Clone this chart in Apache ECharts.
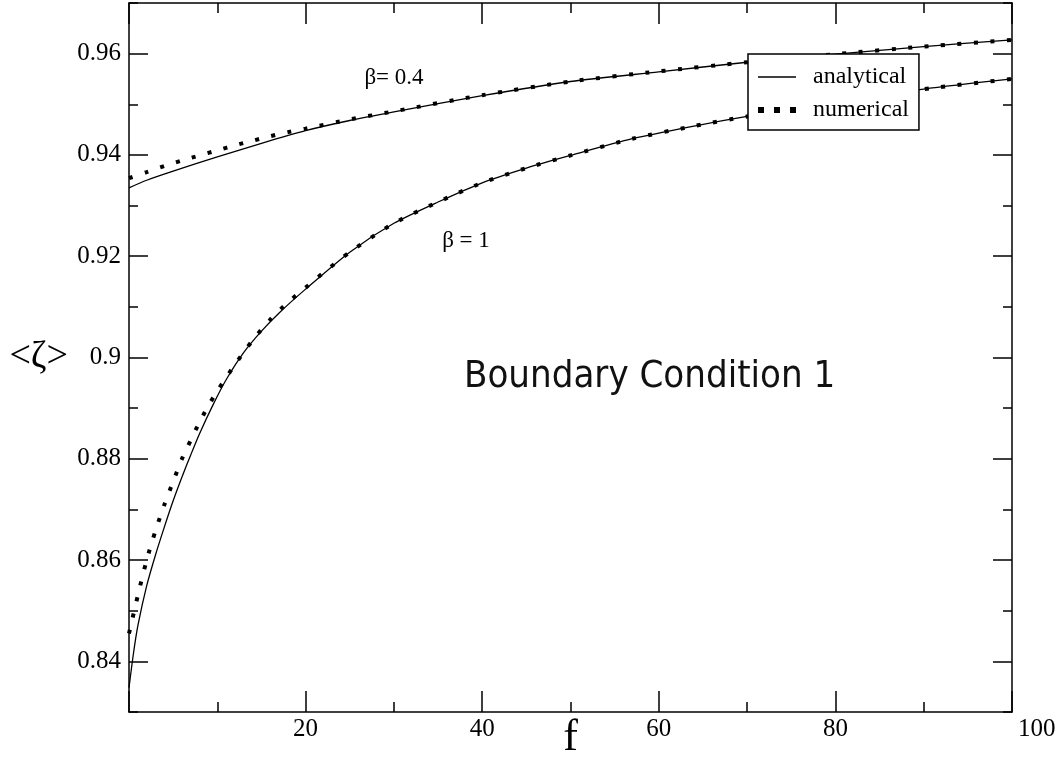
<!DOCTYPE html>
<html>
<head>
<meta charset="utf-8">
<script src="https://cdn.jsdelivr.net/npm/echarts@6/dist/echarts.min.js"></script>
<style>
  html, body { margin: 0; padding: 0; background: #fff; }
  #chart { width: 1060px; height: 758px; }
</style>
</head>
<body>
<div id="chart"></div>
<script>
// beta = 0.4
const fUp = [0, 2, 5, 10, 15, 20, 25, 30, 40, 50, 60, 70, 80, 90, 100];
const analyticUp = [0.9335, 0.9350, 0.9368, 0.9396, 0.9423, 0.9448, 0.9468, 0.9485, 0.9517, 0.9545, 0.9564, 0.9583, 0.9599, 0.9614, 0.9627];
const fUpNum = [0, 2, 4, 6, 8, 10, 12, 14, 16, 18, 20, 25, 30, 40, 50, 60, 70, 80, 90, 100];
const numericUp = [0.9354, 0.9366, 0.9378, 0.9389, 0.9399, 0.9409, 0.9419, 0.9428, 0.9437, 0.9445, 0.9452, 0.9470, 0.9486, 0.9518, 0.9545, 0.9565, 0.9583, 0.9599, 0.9614, 0.9627];

// beta = 1
const fLow = [0, 0.5, 1, 2, 3, 4, 5, 6, 7, 8, 9.5, 11, 13, 15, 17, 20, 25, 30, 35, 40, 45, 50, 57, 64, 70, 80, 90, 100];
const analyticLow = [0.8348, 0.8415, 0.8470, 0.8549, 0.8610, 0.8665, 0.8717, 0.8764, 0.8808, 0.8850, 0.8906, 0.8956, 0.9010, 0.9052, 0.9088, 0.9135, 0.9208, 0.9265, 0.9307, 0.9345, 0.9374, 0.9399, 0.9432, 0.9457, 0.9476, 0.9504, 0.9530, 0.9550];
const fLowNum = [0, 1, 2, 3, 4, 5, 6, 7, 8, 9, 10, 12, 14, 16, 18, 20, 22, 25, 30, 35, 40, 45, 50, 57, 64, 70, 80, 90, 100];
const numericLow = [0.8455, 0.8530, 0.8600, 0.8658, 0.8709, 0.8755, 0.8800, 0.8837, 0.8873, 0.8905, 0.8934, 0.8986, 0.9034, 0.9075, 0.9109, 0.9138, 0.9167, 0.9208, 0.9265, 0.9307, 0.9345, 0.9374, 0.9399, 0.9432, 0.9457, 0.9476, 0.9504, 0.9530, 0.9550];

const yMajor = [0.84, 0.86, 0.88, 0.9, 0.92, 0.94, 0.96];

const serif = '"Liberation Serif", "DejaVu Serif", serif';
const black = '#000';
const axisLine = { show: true, lineStyle: { color: black, width: 1.5 } };

const zip = (xs, ys) => xs.map((x, i) => [x, ys[i]]);

const chart = echarts.init(document.getElementById('chart'));

function xAxisCfg(pos) {
  return {
    type: 'value',
    position: pos,
    min: 0, max: 100, interval: 20,
    axisLine: axisLine,
    axisTick: { inside: true, length: 21, lineStyle: { color: black, width: 1.5 } },
    minorTick: { show: true, splitNumber: 2, length: 10, lineStyle: { color: black, width: 1.5 } },
    splitLine: { show: false },
    axisLabel: pos === 'bottom' ? {
      margin: 5,
      color: black,
      fontFamily: serif,
      fontSize: 25,
      alignMaxLabel: 'left',
      formatter: v => v === 0 ? '' : (v === 100 ? '{m|100}' : String(v)),
      rich: { m: { fontFamily: serif, fontSize: 25, color: black, padding: [0, 0, 8, 6] } }
    } : { show: false },
    name: pos === 'bottom' ? 'f' : '',
    nameLocation: 'middle',
    nameGap: 4,
    nameMoveOverlap: false,
    nameTextStyle: { fontFamily: serif, fontSize: 44, color: black, verticalAlign: 'top' }
  };
}

function yAxisCfg(pos, major) {
  const cfg = {
    type: 'value',
    position: pos,
    offset: 0,
    min: 0.83, max: 0.97, interval: 0.01,
    axisLine: major ? { show: false } : axisLine,
    splitLine: { show: false },
    axisTick: { inside: true, length: major ? 19 : 9, lineStyle: { color: black, width: 1.5 } },
    axisLabel: { show: false }
  };
  if (major) {
    cfg.axisTick.customValues = yMajor;
    if (pos === 'left') {
      cfg.axisLabel = { show: true, customValues: yMajor, margin: 8, color: black, fontFamily: serif, fontSize: 25 };
      cfg.name = '<ζ>';
      cfg.nameLocation = 'middle';
      cfg.nameRotate = 0;
      cfg.nameGap = 61;
      cfg.nameMoveOverlap = false;
      cfg.nameTextStyle = { fontFamily: serif, fontSize: 38, color: black };
    }
  }
  return cfg;
}

const option = {
  animation: false,
  backgroundColor: '#fff',
  color: [black],
  grid: { left: 129, right: 48, top: 3, bottom: 46, outerBoundsMode: 'none', containLabel: false },
  xAxis: [xAxisCfg('bottom'), xAxisCfg('top')],
  yAxis: [yAxisCfg('left', false), yAxisCfg('left', true), yAxisCfg('right', false), yAxisCfg('right', true)],
  legend: {
    orient: 'vertical',
    left: 748,
    top: 54,
    padding: [11, 10, 8, 10],
    itemGap: 9,
    itemWidth: 38,
    itemHeight: 6,
    symbolKeepAspect: true,
    backgroundColor: '#fff',
    borderColor: black,
    borderWidth: 1.5,
    borderRadius: 0,
    selectedMode: false,
    itemStyle: { color: black, borderWidth: 0 },
    textStyle: { fontFamily: serif, fontSize: 24, color: black, lineHeight: 24, padding: [0, 0, 0, 12] },
    data: [
      { name: 'analytical', icon: 'path://M0,0h38v1.3h-38z' },
      { name: 'numerical', icon: 'path://M0,0h6v6h-6z M16,0h6v6h-6z M32,0h6v6h-6z' }
    ]
  },
  graphic: [
    { type: 'text', style: { text: 'β= 0.4', x: 394, y: 78, font: '23px ' + serif, fill: black, textAlign: 'center', textVerticalAlign: 'middle' } },
    { type: 'text', style: { text: 'β = 1', x: 466, y: 241, font: '23px ' + serif, fill: black, textAlign: 'center', textVerticalAlign: 'middle' } },
    { type: 'text', style: { text: 'Boundary Condition 1', x: 464, y: 377, font: '38px "DejaVu Sans Condensed", "DejaVu Sans", sans-serif', fill: '#111', textAlign: 'left', textVerticalAlign: 'middle' } }
  ],
  series: [
    { name: 'analytical', type: 'line', data: zip(fUp, analyticUp), symbol: 'none', smooth: 0.25, lineStyle: { color: black, width: 1.3 }, z: 2 },
    { name: 'analytical', type: 'line', data: zip(fLow, analyticLow), symbol: 'none', smooth: 0.25, lineStyle: { color: black, width: 1.3 }, z: 2 },
    { name: 'numerical', type: 'line', data: zip(fUpNum, numericUp), symbol: 'none', smooth: 0.25, lineStyle: { color: black, width: 4, type: [4, 12.5], cap: 'butt' }, z: 3 },
    { name: 'numerical', type: 'line', data: zip(fLowNum, numericLow), symbol: 'none', smooth: 0.25, lineStyle: { color: black, width: 4, type: [4, 12.5], cap: 'butt' }, z: 3 }
  ]
};

chart.setOption(option);
</script>
</body>
</html>
